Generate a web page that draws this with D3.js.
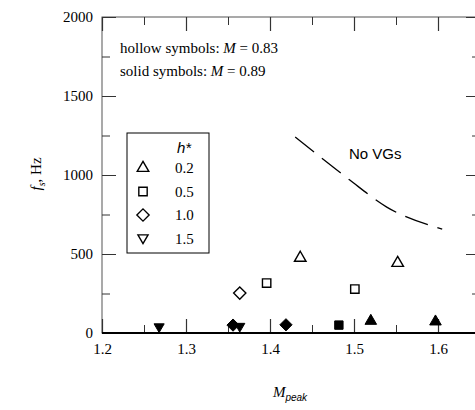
<!DOCTYPE html>
<html><head><meta charset="utf-8">
<script src="https://cdn.jsdelivr.net/npm/d3@7"></script>
<style>body{margin:0;background:#fff}svg{display:block}</style>
</head><body>
<svg id="c" width="475" height="410"></svg>
<script>
// ---- data ----
const xTicksMajor = [1.2, 1.3, 1.4, 1.5, 1.6];
const xTicksMinor = [1.25, 1.35, 1.45, 1.55];
const yTicksMajor = [0, 500, 1000, 1500, 2000];
const yTicksMinor = [250, 750, 1250, 1750];
const legendLabels = ["0.2", "0.5", "1.0", "1.5"];
// hollow symbols (M = 0.83)
const hollowTri = [[1.436, 475], [1.552, 443]];
const hollowSq = [[1.396, 316], [1.501, 278]];
const hollowDia = [[1.364, 253]];
// solid symbols (M = 0.89)
const solidTri = [[1.520, 76], [1.597, 72]];
const solidSq = [[1.482, 50]];
const solidDia = [[1.356, 50], [1.419, 52]];
const solidDown = [[1.268, 35], [1.364, 38]];
// No-VGs boundary curve
const noVGsCurve = [[1.430, 1240], [1.469, 1076], [1.495, 968], [1.539, 797], [1.605, 658]];

const svg = d3.select("#c");
const L = 102, T = 17, B = 333, R = 480;
const x = d3.scaleLinear().domain([1.2, 1.65]).range([L, R]);
const y = d3.scaleLinear().domain([0, 2000]).range([B, T]);

const serif = "Liberation Serif, Times New Roman, serif";
const sans = "Liberation Sans, Arial, sans-serif";

// frame
svg.append("rect").attr("x", L).attr("y", T).attr("width", R - L).attr("height", B - T)
  .attr("fill", "none").attr("stroke", "#555").attr("stroke-width", 1);

function styleAxis(g, w) {
  g.attr("font-family", serif).attr("font-size", 15);
  g.select(".domain").remove();
  g.selectAll(".tick line").attr("stroke", "#333").attr("stroke-width", w || 1);
  g.selectAll("text").attr("font-family", serif).attr("font-size", 15).attr("fill", "#000");
}
// bottom
svg.append("g").attr("transform", `translate(0,${B})`)
  .call(d3.axisBottom(x).tickValues(xTicksMajor).tickSizeInner(-14).tickSizeOuter(0).tickPadding(10).tickFormat(d3.format(".1f")))
  .call(g => styleAxis(g, 1.2));
svg.append("g").attr("transform", `translate(0,${B})`)
  .call(d3.axisBottom(x).tickValues(xTicksMinor).tickSizeInner(-8).tickSizeOuter(0).tickFormat(""))
  .call(g => styleAxis(g));
// top
svg.append("g").attr("transform", `translate(0,${T})`)
  .call(d3.axisTop(x).tickValues(xTicksMajor).tickSizeInner(-14).tickSizeOuter(0).tickFormat(""))
  .call(g => styleAxis(g, 1.2));
svg.append("g").attr("transform", `translate(0,${T})`)
  .call(d3.axisTop(x).tickValues(xTicksMinor).tickSizeInner(-8).tickSizeOuter(0).tickFormat(""))
  .call(g => styleAxis(g));
// left
svg.append("g").attr("transform", `translate(${L},0)`)
  .call(d3.axisLeft(y).tickValues(yTicksMajor).tickSizeInner(-14).tickSizeOuter(0).tickPadding(9).tickFormat(d3.format("d")))
  .call(g => styleAxis(g));
svg.append("g").attr("transform", `translate(${L},0)`)
  .call(d3.axisLeft(y).tickValues(yTicksMinor).tickSizeInner(-8).tickSizeOuter(0).tickFormat(""))
  .call(g => styleAxis(g));
// right
svg.append("g").attr("transform", `translate(${R},0)`)
  .call(d3.axisRight(y).tickValues(yTicksMajor).tickSizeInner(-14).tickSizeOuter(0).tickFormat(""))
  .call(g => styleAxis(g));
svg.append("g").attr("transform", `translate(${R},0)`)
  .call(d3.axisRight(y).tickValues(yTicksMinor).tickSizeInner(-8).tickSizeOuter(0).tickFormat(""))
  .call(g => styleAxis(g));
// thick zero line
svg.append("line").attr("x1", L).attr("x2", R).attr("y1", y(0)).attr("y2", y(0))
  .attr("stroke", "#000").attr("stroke-width", 2.2);

// dashed curve
svg.append("path").datum(noVGsCurve)
  .attr("d", d3.line().x(d => x(d[0])).y(d => y(d[1])).curve(d3.curveMonotoneX))
  .attr("fill", "none").attr("stroke", "#000").attr("stroke-width", 1.3)
  .attr("stroke-dasharray", "24,10");

// symbols
const sym = {
  tri: d3.symbol().type(d3.symbolTriangle).size(58),
  sq: d3.symbol().type(d3.symbolSquare).size(70),
  dia: d3.symbol().type({draw(ctx, s) { const r = Math.sqrt(s) / 2; ctx.moveTo(0, -r); ctx.lineTo(r, 0); ctx.lineTo(0, r); ctx.lineTo(-r, 0); ctx.closePath(); }}).size(150),
  down: d3.symbol().type({draw(ctx, s) { const w = Math.sqrt(s) * 1.1; ctx.moveTo(-w / 2, -w * 0.36); ctx.lineTo(w / 2, -w * 0.36); ctx.lineTo(0, w * 0.5); ctx.closePath(); }}).size(85)
};
function plot(data, kind, solid) {
  svg.append("g").selectAll("path").data(data).join("path")
    .attr("transform", d => `translate(${x(d[0])},${y(d[1])})`)
    .attr("d", sym[kind]())
    .attr("fill", solid ? "#000" : "#fff")
    .attr("stroke", "#000").attr("stroke-width", solid ? 1 : 1.4);
}
plot(hollowTri, "tri", false);
plot(hollowSq, "sq", false);
plot(hollowDia, "dia", false);
plot(solidDown, "down", true);
plot(solidDia, "dia", true);
plot(solidSq, "sq", true);
plot(solidTri, "tri", true);

// annotations
const ann = svg.append("g").attr("font-family", serif).attr("font-size", 15).attr("fill", "#000");
const t1 = ann.append("text").attr("x", 120).attr("y", 53);
t1.append("tspan").text("hollow symbols: ");
t1.append("tspan").attr("font-style", "italic").text("M");
t1.append("tspan").text(" = 0.83");
const t2 = ann.append("text").attr("x", 120).attr("y", 76);
t2.append("tspan").text("solid symbols: ");
t2.append("tspan").attr("font-style", "italic").text("M");
t2.append("tspan").text(" = 0.89");

svg.append("text").attr("x", 349).attr("y", 159).attr("font-family", sans).attr("font-size", 15)
  .text("No VGs");

// legend
const lg = svg.append("g");
lg.append("rect").attr("x", 127).attr("y", 133).attr("width", 82).attr("height", 120)
  .attr("fill", "#fff").attr("stroke", "#000").attr("stroke-width", 1);
lg.append("text").attr("x", 177).attr("y", 153).attr("font-family", sans).attr("font-style", "italic")
  .attr("font-size", 15).text("h*");
const legKinds = ["tri", "sq", "dia", "down"];
legendLabels.forEach((lab, i) => {
  const cy = 168 + i * 23.5;
  lg.append("path").attr("transform", `translate(143,${cy})`).attr("d", sym[legKinds[i]]())
    .attr("fill", "#fff").attr("stroke", "#000").attr("stroke-width", 1.4);
  lg.append("text").attr("x", 175).attr("y", cy + 5).attr("font-family", serif).attr("font-size", 15).text(lab);
});

// axis titles
const yl = svg.append("text").attr("transform", "translate(41,174) rotate(-90)")
  .attr("text-anchor", "middle").attr("font-family", serif).attr("font-size", 15);
yl.append("tspan").attr("font-style", "italic").text("f");
yl.append("tspan").attr("font-style", "italic").attr("font-size", 10).attr("dy", 4).text("s");
yl.append("tspan").attr("dy", -4).text(", Hz");

const xl = svg.append("text").attr("x", 290).attr("y", 397).attr("text-anchor", "middle")
  .attr("font-family", serif).attr("font-size", 15);
xl.append("tspan").attr("font-style", "italic").text("M");
xl.append("tspan").attr("font-family", sans).attr("font-style", "italic").attr("font-size", 10).attr("dy", 4).text("peak");
</script>
</body></html>
